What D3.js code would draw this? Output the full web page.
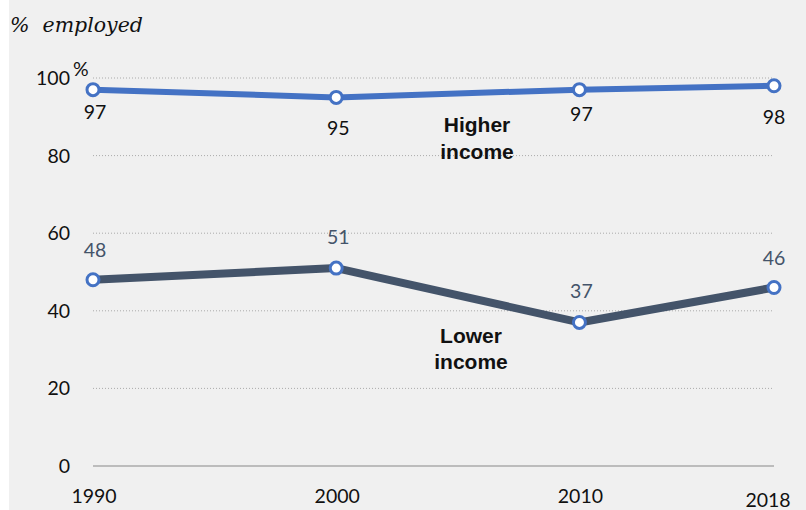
<!DOCTYPE html>
<html>
<head>
<meta charset="utf-8">
<script src="https://cdn.jsdelivr.net/npm/d3@7"></script>
<style>
  body { margin: 0; background: #fff; }
  svg { display: block; }
</style>
</head>
<body>
<div id="chart"></div>
<script>
var years = [1990, 2000, 2010, 2018];
var higherIncome = [97, 95, 97, 98];
var lowerIncome = [48, 51, 37, 46];
var yTicks = [0, 20, 40, 60, 80, 100];

var width = 806, height = 510;
var svg = d3.select('#chart').append('svg').attr('width', width).attr('height', height);

svg.append('rect').attr('x', 9).attr('y', 0).attr('width', width - 9).attr('height', height).attr('fill', '#f0f0f0');

var x = d3.scaleLinear().domain([1990, 2018]).range([93, 774]);
var y = d3.scaleLinear().domain([0, 100]).range([466, 78]);

var numFont = 'Lato, "Open Sans", sans-serif';

// title
svg.append('text').attr('x', 10).attr('y', 32)
  .style('font-family', '"DejaVu Serif", serif').style('font-style', 'italic')
  .style('font-size', '20.5px').attr('fill', '#111')
  .attr('xml:space', 'preserve').text('%  employed');

// gridlines
svg.append('g').selectAll('line').data(yTicks).enter().append('line')
  .attr('x1', x(1990)).attr('x2', x(2018))
  .attr('y1', function(d) { return y(d); }).attr('y2', function(d) { return y(d); })
  .attr('stroke', function(d) { return d === 0 ? '#888' : '#aaa'; })
  .attr('stroke-width', function(d) { return d === 0 ? 1.2 : 1; })
  .attr('stroke-dasharray', function(d) { return d === 0 ? null : '1,2'; });

// y tick labels
svg.append('g').selectAll('text').data(yTicks).enter().append('text')
  .attr('x', 70).attr('y', function(d) { return y(d) + 7; })
  .attr('text-anchor', 'end').style('font-family', numFont).style('font-size', '19.5px')
  .attr('fill', '#111').text(function(d) { return d; });
svg.append('text').attr('x', 73).attr('y', y(100) - 2).style('font-family', numFont)
  .style('font-size', '19.5px').attr('fill', '#111').text('%');

// x tick labels
svg.append('g').selectAll('text').data(years).enter().append('text')
  .attr('x', function(d) { return d === 2018 ? x(d) - 6 : x(d) + 1; })
  .attr('y', function(d) { return d === 2018 ? 507 : 503; })
  .attr('text-anchor', 'middle').style('font-family', numFont).style('font-size', '19.5px')
  .attr('fill', '#111').text(function(d) { return d; });

var line = d3.line().x(function(d) { return x(d.year); }).y(function(d) { return y(d.value); });

function series(values, color, strokeW, labelColor, labelDy) {
  var pts = years.map(function(yr, i) { return { year: yr, value: values[i], dy: labelDy[i] }; });
  svg.append('path').datum(pts).attr('d', line).attr('fill', 'none')
    .attr('stroke', color).attr('stroke-width', strokeW).attr('stroke-linejoin', 'round');
  svg.append('g').selectAll('circle').data(pts).enter().append('circle')
    .attr('cx', function(d) { return x(d.year); }).attr('cy', function(d) { return y(d.value); })
    .attr('r', 6).attr('fill', '#fff').attr('stroke', '#4472c4').attr('stroke-width', 3);
  svg.append('g').selectAll('text').data(pts).enter().append('text')
    .attr('x', function(d) { return x(d.year) + (d.year === 2018 ? 0 : 2); })
    .attr('y', function(d) { return y(d.value) + d.dy; })
    .attr('text-anchor', 'middle').style('font-family', numFont).style('font-size', '19.5px')
    .attr('fill', labelColor).text(function(d) { return d.value; });
}

series(higherIncome, '#4472c4', 6, '#111', [29, 38, 31, 38]);
series(lowerIncome, '#44546a', 8, '#44546a', [-23, -24, -24, -23]);

function label(lines, cx, y0, gap) {
  var t = svg.append('text').attr('text-anchor', 'middle')
    .style('font-family', '"Liberation Sans", Arial, sans-serif').style('font-weight', 'bold')
    .style('font-size', '21px').attr('fill', '#111');
  lines.forEach(function(s, i) {
    t.append('tspan').attr('x', cx).attr('y', y0 + i * gap).text(s);
  });
}
label(['Higher', 'income'], 477, 132, 27);
label(['Lower', 'income'], 471, 343, 26);
</script>
</body>
</html>
